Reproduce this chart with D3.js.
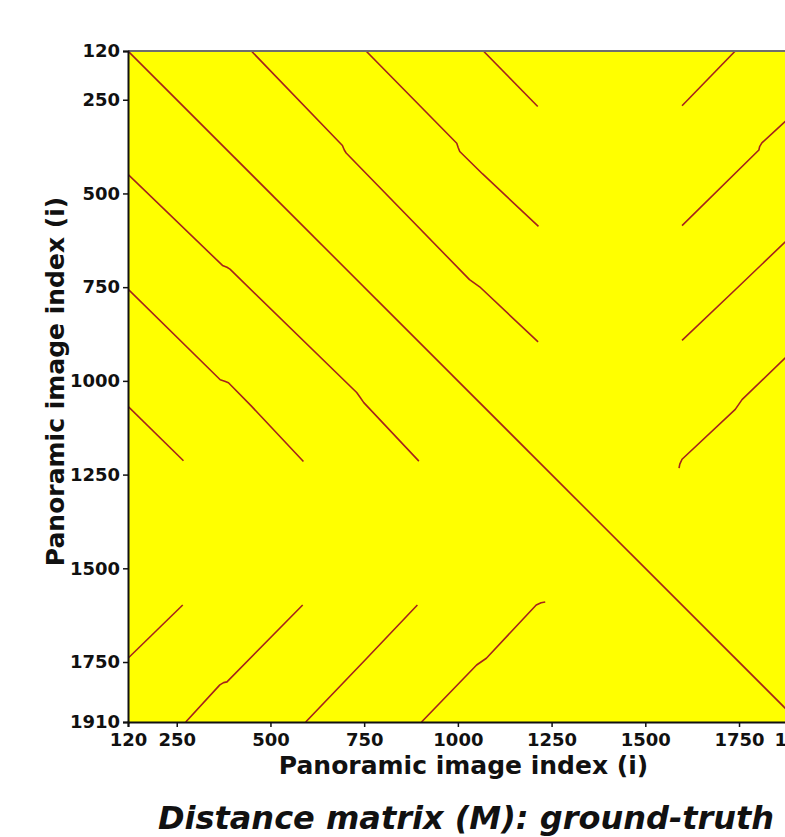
<!DOCTYPE html>
<html>
<head>
<meta charset="utf-8">
<script src="https://cdn.jsdelivr.net/npm/d3@7"></script>
<style>
  html, body { margin: 0; padding: 0; background: #ffffff; }
  svg { display: block; }
</style>
</head>
<body>
<svg id="chart" width="785" height="837"></svg>
<script>
// Image index range shown on both axes
const indexDomain = [120, 1910];
const tickValues = [120, 250, 500, 750, 1000, 1250, 1500, 1750, 1910];

// Zero-distance traces of the ground-truth matrix, as [column, row] index pairs.
// The matrix is symmetric, so each trace is drawn together with its transpose.
const diagonal = [[120, 120], [1910, 1910]];
const loopA = [[449, 120], [692, 372], [697, 384], [702, 392], [1031, 730], [1045, 740], [1058, 749], [1214, 896]];
const loopB = [[755, 120], [997, 366], [1001, 378], [1005, 388], [1066, 448], [1215, 588]];
const loopC = [[1068, 120], [1213, 268]];
const returnL1 = [[120, 1740], [266, 1598]];
const returnL2 = [[274, 1910], [365, 1811], [375, 1805], [384, 1803], [586, 1598]];
const returnL3 = [[594, 1910], [757, 1740], [892, 1598]];
const returnL4 = [[903, 1910], [1050, 1758], [1076, 1740], [1209, 1598], [1222, 1592], [1233, 1590]];

const traces = [loopA, loopB, loopC, returnL1, returnL2, returnL3, returnL4];

const xLabel = "Panoramic image index (i)";
const yLabel = "Panoramic image index (i)";
const title = "Distance matrix (M): ground-truth";

const svg = d3.select("#chart");
const font = "'DejaVu Sans', sans-serif";

const plot = { left: 128, right: 799, top: 51, bottom: 722 };

const x = d3.scaleLinear().domain(indexDomain).range([plot.left, plot.right]);
const y = d3.scaleLinear().domain(indexDomain).range([plot.top, plot.bottom]);

svg.append("defs").append("clipPath").attr("id", "plot-clip")
  .append("rect")
  .attr("x", plot.left).attr("y", plot.top)
  .attr("width", plot.right - plot.left).attr("height", plot.bottom - plot.top);

// Background of the matrix
svg.append("rect")
  .attr("x", plot.left).attr("y", plot.top)
  .attr("width", plot.right - plot.left).attr("height", plot.bottom - plot.top)
  .attr("fill", "#ffff00");

const line = d3.line().x(d => x(d[0])).y(d => y(d[1]));
const g = svg.append("g").attr("clip-path", "url(#plot-clip)");

const lineColor = "#a5231b";
g.append("path").attr("d", line(diagonal))
  .attr("fill", "none").attr("stroke", lineColor).attr("stroke-width", 1.6);

traces.forEach(t => {
  g.append("path").attr("d", line(t))
    .attr("fill", "none").attr("stroke", lineColor).attr("stroke-width", 1.6)
    .attr("stroke-linejoin", "round");
  g.append("path").attr("d", line(t.map(p => [p[1], p[0]])))
    .attr("fill", "none").attr("stroke", lineColor).attr("stroke-width", 1.6)
    .attr("stroke-linejoin", "round");
});

// Frame: grey top edge, black axis spines
svg.append("line")
  .attr("x1", plot.left).attr("x2", plot.right + 5)
  .attr("y1", plot.top).attr("y2", plot.top)
  .attr("stroke", "#6e6e6e").attr("stroke-width", 2);

const xAxis = d3.axisBottom(x).tickValues(tickValues).tickSizeOuter(0).tickSize(5).tickFormat(d3.format("d"));
const yAxis = d3.axisLeft(y).tickValues(tickValues).tickSizeOuter(0).tickSize(5).tickFormat(d3.format("d"));

const gx = svg.append("g").attr("transform", `translate(0,${plot.bottom})`).call(xAxis);
const gy = svg.append("g").attr("transform", `translate(${plot.left},0)`).call(yAxis);

[gx, gy].forEach(a => {
  a.select(".domain").attr("stroke", "#111").attr("stroke-width", 2);
  a.selectAll(".tick line").attr("stroke", "#111").attr("stroke-width", 1.5);
  a.selectAll(".tick text")
    .attr("fill", "#111")
    .style("font-family", font)
    .style("font-weight", "bold")
    .style("font-size", "18px");
});
gx.selectAll(".tick text").attr("dy", "0.71em").attr("y", 11);
gy.selectAll(".tick text").attr("x", -8);

svg.append("text")
  .attr("x", (plot.left + plot.right) / 2).attr("y", 774)
  .attr("text-anchor", "middle")
  .style("font-family", font).style("font-weight", "bold").style("font-size", "25px")
  .attr("fill", "#111")
  .text(xLabel);

svg.append("text")
  .attr("transform", `translate(64,${(plot.top + plot.bottom) / 2 - 5}) rotate(-90)`)
  .attr("text-anchor", "middle")
  .style("font-family", font).style("font-weight", "bold").style("font-size", "25px")
  .attr("fill", "#111")
  .text(yLabel);

svg.append("text")
  .attr("x", 466).attr("y", 829)
  .attr("text-anchor", "middle")
  .style("font-family", font).style("font-weight", "bold").style("font-style", "italic")
  .style("font-size", "32px")
  .attr("fill", "#111")
  .text(title);
</script>
</body>
</html>
